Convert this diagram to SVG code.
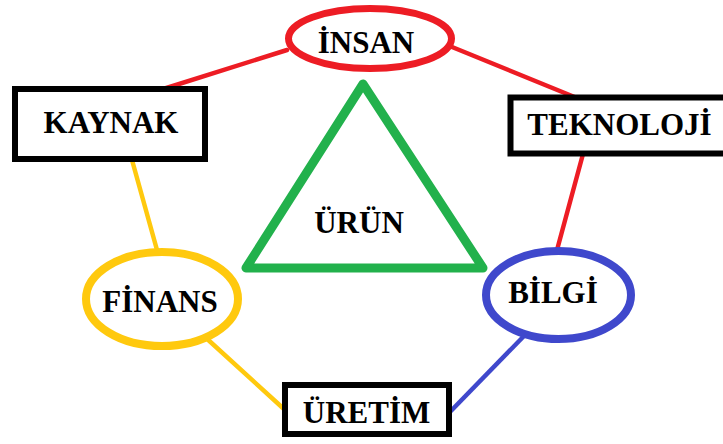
<svg xmlns="http://www.w3.org/2000/svg" width="723" height="444" viewBox="0 0 723 444">
  <style>
    .lbl { font-family: "Liberation Serif", "Times New Roman", serif; font-weight: bold; font-size: 31px; fill: #000; text-anchor: middle; }
    .box { fill: #fff; stroke: #000; stroke-width: 6; }
    .red { stroke: #ED1C24; }
    .yel { stroke: #FFC90E; }
    .blu { stroke: #3F48CC; }
    .link { stroke-width: 4.5; stroke-linecap: round; fill: none; }
  </style>
  <rect width="723" height="444" fill="#fff"/>

  <!-- connectors -->
  <g id="connectors">
    <line class="link red" x1="287" y1="50" x2="160" y2="90"/>
    <line class="link red" x1="452" y1="47" x2="577" y2="98"/>
    <line class="link red" x1="583" y1="154" x2="557" y2="250"/>
    <line class="link yel" x1="132" y1="160" x2="157" y2="250"/>
    <line class="link yel" x1="205" y1="337" x2="285" y2="410"/>
    <line class="link blu" x1="523" y1="337" x2="447" y2="415"/>
  </g>

  <g id="urun">
    <polygon points="363,84 246,268 483,268" fill="none" stroke="#22B14C" stroke-width="9" stroke-linejoin="round"/>
    <text class="lbl" x="359" y="233">ÜRÜN</text>
  </g>

  <g id="insan">
    <ellipse cx="370" cy="38.5" rx="81.5" ry="30" fill="#fff" stroke="#ED1C24" stroke-width="7"/>
    <text class="lbl" x="366" y="53">İNSAN</text>
  </g>

  <g id="kaynak">
    <rect class="box" x="15" y="89" width="190" height="70"/>
    <text class="lbl" x="111" y="133">KAYNAK</text>
  </g>

  <g id="teknoloji">
    <rect class="box" x="510.5" y="97.5" width="230" height="56" stroke-width="5.5"/>
    <text class="lbl" x="619.5" y="135">TEKNOLOJİ</text>
  </g>

  <g id="finans">
    <ellipse cx="162" cy="299" rx="76" ry="47" fill="#fff" stroke="#FFC90E" stroke-width="8"/>
    <text class="lbl" x="160" y="312">FİNANS</text>
  </g>

  <g id="bilgi">
    <ellipse cx="558.5" cy="295" rx="72.5" ry="44" fill="#fff" stroke="#3F48CC" stroke-width="8"/>
    <text class="lbl" x="553" y="303">BİLGİ</text>
  </g>

  <g id="uretim">
    <rect class="box" x="285" y="385" width="164" height="49"/>
    <text class="lbl" x="366.5" y="423">ÜRETİM</text>
  </g>
</svg>
